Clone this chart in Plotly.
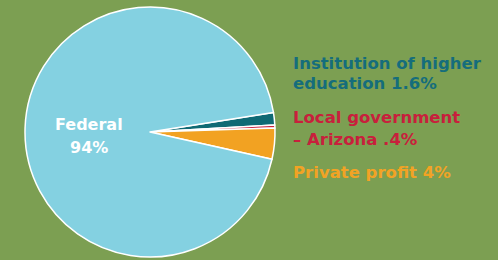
import plotly.graph_objects as go

labels = ["Institution of higher education", "Local government – Arizona", "Private profit", "Federal"]
values = [1.6, 0.4, 4.0, 94.0]
colors = ["#0f6a74", "#c8203c", "#f2a222", "#84d1e1"]

# (text, color, baseline y in px)
legend_lines = [
    ("Institution of higher", "#156d7c", 69),
    ("education 1.6%", "#156d7c", 90),
    ("Local government", "#c8203c", 124),
    ("– Arizona .4%", "#c8203c", 145),
    ("Private profit 4%", "#f2a324", 178),
]
federal_lines = [("Federal", 130), ("94%", 153)]

W, H = 498, 260
FONT = "DejaVu Sans"
fig = go.Figure(go.Pie(
    labels=labels,
    values=values,
    sort=False,
    direction="clockwise",
    rotation=81,
    marker=dict(colors=colors, line=dict(color="white", width=1.5)),
    textinfo="none",
    hoverinfo="label+percent",
    showlegend=False,
    domain=dict(x=[25 / W, 275 / W], y=[3 / H, 253 / H]),
))

annotations = []
for txt, base in federal_lines:
    annotations.append(dict(
        text="<b>" + txt + "</b>", x=89 / W, y=1 - (base - 6) / H, xref="paper", yref="paper",
        showarrow=False, font=dict(family=FONT, size=16, color="white"),
        xanchor="center", yanchor="middle"))
for txt, col, base in legend_lines:
    annotations.append(dict(
        text="<b>" + txt + "</b>", x=291 / W, y=1 - (base - 6) / H, xref="paper", yref="paper",
        showarrow=False, font=dict(family=FONT, size=16.5, color=col),
        xanchor="left", yanchor="middle", align="left"))

fig.update_layout(
    width=W, height=H,
    margin=dict(l=0, r=0, t=0, b=0),
    paper_bgcolor="#7c9f52",
    plot_bgcolor="#7c9f52",
    annotations=annotations,
)
fig.write_html("out.html", config={"displayModeBar": False},
               post_script="document.body.style.margin='0';document.body.style.background='#7c9f52';")
